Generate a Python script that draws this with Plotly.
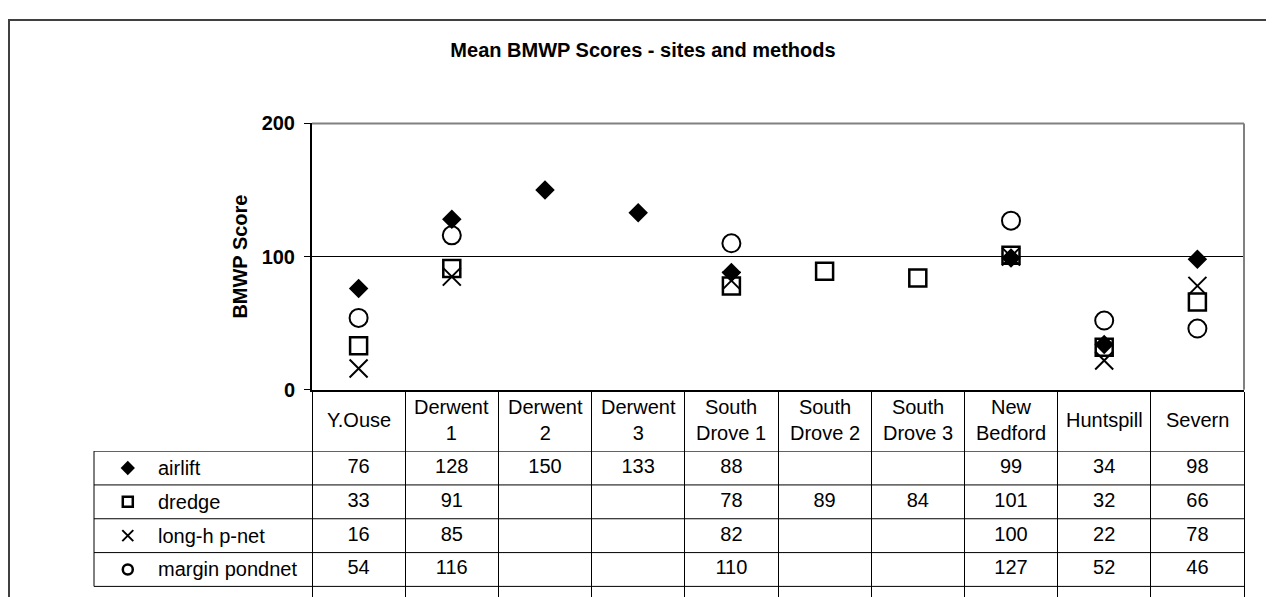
import plotly.graph_objects as go

# sites (table columns) and header text as shown in the table
sites = ['Y.Ouse', 'Derwent 1', 'Derwent 2', 'Derwent 3', 'South Drove 1',
         'South Drove 2', 'South Drove 3', 'New Bedford', 'Huntspill', 'Severn']
site_labels = ['Y.Ouse', 'Derwent<br>1', 'Derwent<br>2', 'Derwent<br>3', 'South<br>Drove 1',
               'South<br>Drove 2', 'South<br>Drove 3', 'New<br>Bedford', 'Huntspill', 'Severn']

methods = ['airlift', 'dredge', 'long-h p-net', 'margin pondnet']
airlift = [76, 128, 150, 133, 88, None, None, 99, 34, 98]
dredge = [33, 91, None, None, 78, 89, 84, 101, 32, 66]
long_h = [16, 85, None, None, 82, None, None, 100, 22, 78]
margin = [54, 116, None, None, 110, None, None, 127, 52, 46]
series = [airlift, dredge, long_h, margin]

# target geometry in screenshot pixels
W, H = 1274, 597
PLOT_L, PLOT_R, PLOT_T, PLOT_B = 312, 1244, 117, 395
TABLE_L, HEADER_B, ROW_H = 94, 459, 35.3

# the page body adds an 8px margin around the figure
OFF = 8


def fig_y(y):
    return y - OFF


def px(x):
    return (x - OFF) / W


def py(y):
    return 1 - fig_y(y) / H


FONT = 'Arial, Liberation Sans, sans-serif'
FS = 20

styles = [
    dict(symbol='diamond', size=15, color='black', line=dict(width=0)),
    dict(symbol='square-open', size=17, color='black', line=dict(width=2.5, color='black')),
    dict(symbol='x-thin-open', size=18, color='black', line=dict(width=2, color='black')),
    dict(symbol='circle-open', size=18, color='black', line=dict(width=2, color='black')),
]
legend_styles = [
    dict(symbol='diamond', size=11, color='black', line=dict(width=0)),
    dict(symbol='square-open', size=10, color='black', line=dict(width=2.5, color='black')),
    dict(symbol='x-thin-open', size=11, color='black', line=dict(width=2, color='black')),
    dict(symbol='circle-open', size=10, color='black', line=dict(width=2.5, color='black')),
]

fig = go.Figure()

# points in the chart
for name, vals, st in zip(methods, series, styles):
    fig.add_trace(go.Scatter(
        x=sites, y=vals, mode='markers', name=name,
        marker=st, showlegend=False, cliponaxis=False
    ))

# data table values: one row per method, placed on the site axis
for i, (name, vals) in enumerate(zip(methods, series)):
    fig.add_trace(go.Scatter(
        x=sites, y=[i] * len(sites), yaxis='y2', mode='text',
        text=['' if v is None else str(v) for v in vals],
        textposition='middle center',
        textfont=dict(family=FONT, size=FS, color='black'),
        showlegend=False, hoverinfo='skip', cliponaxis=False
    ))

# legend keys in the table
for i, (name, st) in enumerate(zip(methods, legend_styles)):
    fig.add_trace(go.Scatter(
        x=[0.155], y=[i], xaxis='x2', yaxis='y2', mode='markers',
        marker=st, showlegend=False, hoverinfo='skip', cliponaxis=False
    ))

annotations = []
for site, label in zip(sites, site_labels):
    annotations.append(dict(
        x=site, xref='x', y=py((PLOT_B + HEADER_B) / 2), yref='paper',
        text=label, showarrow=False, xanchor='center', yanchor='middle', align='center',
        font=dict(family=FONT, size=FS, color='black')
    ))
for i, name in enumerate(methods):
    annotations.append(dict(
        x=0.285, xref='x2', y=i, yref='y2', text=name, showarrow=False,
        xanchor='left', yanchor='middle',
        font=dict(family=FONT, size=FS, color='black')
    ))
annotations.append(dict(
    x=px(240), xref='paper', y=py(256), yref='paper', text='BMWP Score',
    textangle=-90, showarrow=False, xanchor='center', yanchor='middle',
    font=dict(family=FONT, size=FS, color='black', weight='bold')
))

shapes = [
    # outer chart frame
    dict(type='rect', xref='paper', yref='paper', x0=1 / W, x1=1.05, y0=-0.05, y1=1 - 1 / H,
         line=dict(color='#404040', width=2), layer='below'),
    # plot area top / right border
    dict(type='line', xref='x domain', yref='y domain', x0=0, x1=1, y0=1, y1=1,
         line=dict(color='#808080', width=2), layer='above'),
    dict(type='line', xref='x domain', yref='y domain', x0=1, x1=1, y0=0, y1=1,
         line=dict(color='#808080', width=2), layer='above'),
    # legend column left edge
    dict(type='line', xref='paper', yref='y2', x0=px(TABLE_L), x1=px(TABLE_L), y0=-0.5, y1=3.5,
         line=dict(color='black', width=1)),
]
for b in [-0.5, 0.5, 1.5, 2.5, 3.5]:
    shapes.append(dict(type='line', xref='paper', yref='y2', x0=px(TABLE_L), x1=px(PLOT_R),
                       y0=b, y1=b, line=dict(color='black', width=1)))

fig.update_layout(
    width=W, height=H,
    margin=dict(l=0, r=0, t=0, b=0),
    paper_bgcolor='white', plot_bgcolor='white',
    font=dict(family=FONT, color='black'),
    title=dict(text='Mean BMWP Scores - sites and methods', x=px(643), xanchor='center',
               y=py(40), yanchor='middle', xref='paper', yref='paper',
               font=dict(family=FONT, size=FS, color='black', weight='bold')),
    xaxis=dict(
        domain=[px(PLOT_L), px(PLOT_R)], type='category',
        categoryorder='array', categoryarray=sites, range=[-0.5, 9.5],
        showline=True, linecolor='black', linewidth=2,
        showgrid=False, zeroline=False, showticklabels=False,
        ticks='outside', tickson='boundaries', ticklen=215, tickwidth=1, tickcolor='black',
        fixedrange=True
    ),
    yaxis=dict(
        domain=[py(PLOT_B), py(PLOT_T)], range=[0, 200], tickvals=[0, 100, 200],
        showline=True, linecolor='black', linewidth=2,
        showgrid=True, gridcolor='black', gridwidth=1, zeroline=False,
        ticks='outside', ticklen=6, tickwidth=1, tickcolor='black', ticklabelstandoff=5,
        tickfont=dict(family=FONT, size=FS, color='black', weight='bold'),
        fixedrange=True
    ),
    xaxis2=dict(domain=[px(TABLE_L), px(PLOT_L)], range=[0, 1], anchor='y2', visible=False,
                fixedrange=True),
    yaxis2=dict(domain=[0, py(HEADER_B)], anchor='x2', visible=False,
                range=[-0.5 + (H - fig_y(HEADER_B)) / ROW_H, -0.5], fixedrange=True),
    annotations=annotations,
    shapes=shapes,
)

fig.write_html('out.html')
